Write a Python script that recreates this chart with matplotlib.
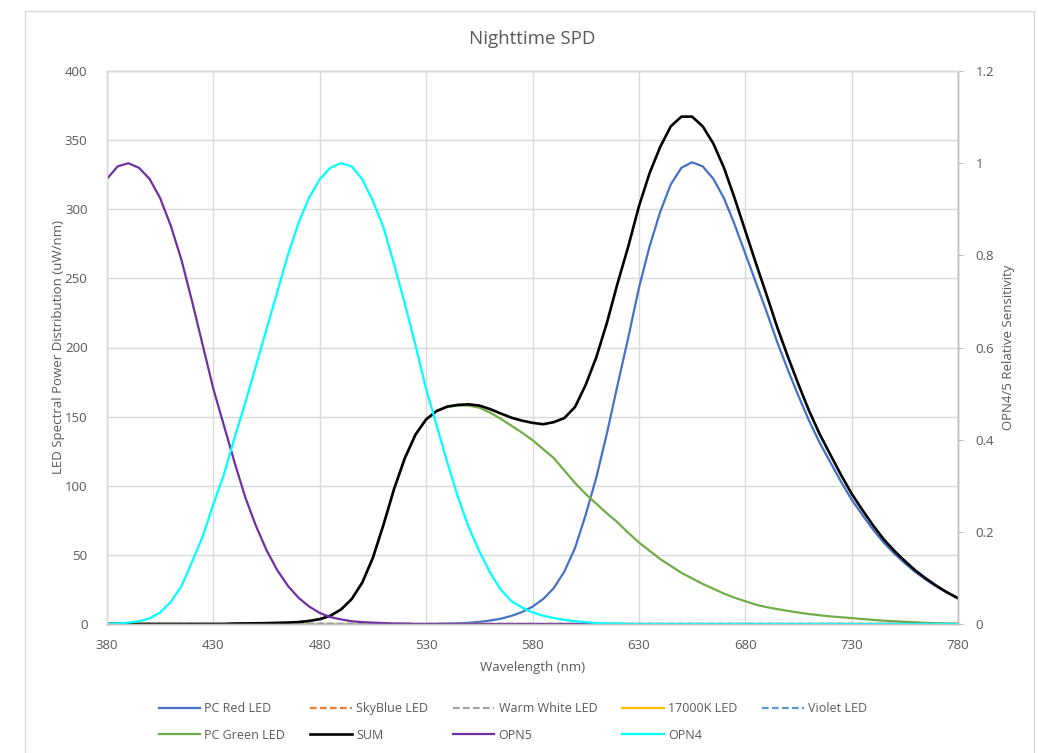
import numpy as np
import matplotlib
matplotlib.use("Agg")
import matplotlib.pyplot as plt
from matplotlib.patches import Rectangle

plt.rcParams['font.family'] = ['Open Sans', 'DejaVu Sans']

# ---------------- data ----------------
wavelength = list(range(380, 781, 5))

pc_red_led = [
    0, 0, 0, 0, 0, 0, 0, 0, 0, 0,                       # 380-425
    0, 0, 0, 0, 0, 0, 0, 0, 0, 0,                       # 430-475
    0, 0, 0, 0, 0, 0, 0, 0, 0, 0,                       # 480-525
    0, 0.1, 0.3, 0.5, 0.9, 1.5, 2.5, 3.8, 5.8, 8.6,     # 530-575
    12.5, 18, 26, 38, 55, 79, 106, 138, 173, 207,       # 580-625
    243, 273, 298, 318, 330, 334, 331, 322, 308, 289,   # 630-675
    268, 247, 226, 204, 184, 165, 147, 131, 117, 103,   # 680-725
    90, 79, 68.5, 59, 51, 44, 37.5, 32, 27, 22.5,       # 730-775
    18.5,                                               # 780
]

pc_green_led = [
    0, 0, 0, 0, 0, 0, 0, 0, 0, 0,
    0, 0, 0.3, 0.4, 0.5, 0.6, 0.8, 1.0, 1.4, 2.2,
    3.5, 6, 10.5, 18, 30, 48, 72, 98, 120, 137,
    148, 154, 157, 158, 158, 156.5, 153, 148.5, 143.5, 138.5,
    133, 126.5, 120, 111, 102, 94, 87, 80, 73.5, 66,
    59, 53, 47, 42, 37, 33, 29, 25.5, 22, 19,
    16.5, 14, 12.2, 10.8, 9.5, 8.3, 7.2, 6.3, 5.5, 4.9,
    4.3, 3.6, 3.0, 2.4, 2.0, 1.6, 1.2, 0.8, 0.5, 0.3,
    0.2,
]

skyblue_led = [0] * 81
warm_white_led = [0] * 81
k17000_led = [0] * 81
violet_led = [0] * 81

opn5 = [
    0.966, 0.993, 1.0, 0.99, 0.966, 0.924, 0.864, 0.79, 0.70, 0.605,
    0.51, 0.43, 0.35, 0.275, 0.213, 0.16, 0.117, 0.083, 0.057, 0.038,
    0.024, 0.015, 0.010, 0.006, 0.004, 0.003, 0.002, 0.001, 0.001, 0,
    0, 0, 0, 0, 0, 0, 0, 0, 0, 0,
    0, 0, 0, 0, 0, 0, 0, 0, 0, 0,
    0, 0, 0, 0, 0, 0, 0, 0, 0, 0,
    0, 0, 0, 0, 0, 0, 0, 0, 0, 0,
    0, 0, 0, 0, 0, 0, 0, 0, 0, 0,
    0,
]

opn4 = [
    0, 0.001, 0.003, 0.006, 0.012, 0.025, 0.048, 0.082, 0.135, 0.19,
    0.26, 0.325, 0.405, 0.48, 0.56, 0.64, 0.72, 0.80, 0.87, 0.925,
    0.965, 0.99, 1.0, 0.993, 0.965, 0.918, 0.86, 0.78, 0.695, 0.605,
    0.51, 0.43, 0.35, 0.275, 0.21, 0.158, 0.112, 0.075, 0.05, 0.036,
    0.025, 0.018, 0.013, 0.009, 0.006, 0.004, 0.002, 0.001, 0.001, 0,
    0, 0, 0, 0, 0, 0, 0, 0, 0, 0,
    0, 0, 0, 0, 0, 0, 0, 0, 0, 0,
    0, 0, 0, 0, 0, 0, 0, 0, 0, 0,
    0,
]

x_ticks = [380, 430, 480, 530, 580, 630, 680, 730, 780]
left_ticks = [0, 50, 100, 150, 200, 250, 300, 350, 400]
right_ticks = [0, 0.2, 0.4, 0.6, 0.8, 1.0, 1.2]
right_tick_labels = ["0", "0.2", "0.4", "0.6", "0.8", "1", "1.2"]

wl = np.array(wavelength)
sum_spd = (np.array(pc_red_led) + np.array(pc_green_led) + np.array(skyblue_led)
           + np.array(warm_white_led) + np.array(k17000_led) + np.array(violet_led))

# ---------------- figure ----------------
W, H = 1038, 753
fig = plt.figure(figsize=(W / 100, H / 100), dpi=100)
fig.patch.set_facecolor('white')

# outer chart border
fig.patches.append(Rectangle((25 / W, -0.02), (1034 - 25) / W, (H - 11) / H + 0.02,
                             transform=fig.transFigure, fill=False,
                             ec='#D9D9D9', lw=1.0, zorder=0))

x0, x1 = 107, 958
y0, y1 = 71, 624
ax = fig.add_axes([x0 / W, 1 - y1 / H, (x1 - x0) / W, (y1 - y0) / H])
ax2 = ax.twinx()

txt = '#595959'
grid_c = '#D9D9D9'
axis_c = '#BFBFBF'

lw = 1.6
h_red, = ax.plot(wl, pc_red_led, color='#4472C4', lw=lw, label='PC Red LED')
h_sky, = ax.plot(wl, skyblue_led, color='#ED7D31', lw=lw, ls=(0, (3, 1.5)), label='SkyBlue LED')
h_ww, = ax.plot(wl, warm_white_led, color='#A5A5A5', lw=lw, ls=(0, (3, 1.5)), label='Warm White LED')
h_17k, = ax.plot(wl, k17000_led, color='#FFC000', lw=lw, label='17000K LED')
h_vio, = ax.plot(wl, violet_led, color='#5B9BD5', lw=lw, ls=(0, (3, 1.5)), label='Violet LED')
h_grn, = ax.plot(wl, pc_green_led, color='#70AD47', lw=lw, label='PC Green LED')
h_sum, = ax.plot(wl, sum_spd, color='black', lw=1.9, label='SUM')
h_o5, = ax2.plot(wl, opn5, color='#7030A0', lw=lw, label='OPN5')
h_o4, = ax2.plot(wl, opn4, color='#00FFFF', lw=lw, label='OPN4')

ax.set_xlim(380, 780)
ax.set_ylim(0, 400)
ax2.set_ylim(0, 1.2)

ax.set_xticks(x_ticks)
ax.set_yticks(left_ticks)
ax2.set_yticks(right_ticks)
ax2.set_yticklabels(right_tick_labels)

ax.grid(True, color=grid_c, lw=1.0)
ax.set_axisbelow(True)

ax.tick_params(axis='x', length=0, pad=11, labelsize=9.5, labelcolor=txt)
ax.tick_params(axis='y', length=0, pad=14, labelsize=9.5, labelcolor=txt)
ax2.tick_params(axis='y', length=3.5, color=axis_c, pad=9, labelsize=9.5, labelcolor=txt)

for a in (ax, ax2):
    for s in ('top', 'left'):
        a.spines[s].set_color(grid_c)
        a.spines[s].set_linewidth(1.0)
    a.spines['bottom'].set_color(axis_c)
    a.spines['right'].set_color(axis_c)
    a.spines['bottom'].set_linewidth(1.0)
    a.spines['right'].set_linewidth(1.0)

ax.set_xlabel('Wavelength (nm)', fontsize=9.5, color=txt)
ax.xaxis.set_label_coords(0.5, -(661 - y1) / (y1 - y0))
ax.set_ylabel('LED Spectral Power Distribution (uW/nm)', fontsize=9.5, color=txt)
ax.yaxis.set_label_coords((65 - x0) / (x1 - x0), 0.5)
ax2.set_ylabel('OPN4/5 Relative Sensitivity', fontsize=9.5, color=txt)
ax2.yaxis.set_label_coords((1002 - x0) / (x1 - x0), 0.5)

fig.text(532 / W, 1 - 39 / H, 'Nighttime SPD', ha='center', va='center',
         fontsize=13.5, color=txt)

handles = [h_red, h_grn, h_sky, h_sum, h_ww, h_o5, h_17k, h_o4, h_vio]
fig.legend(handles=handles, labels=[h.get_label() for h in handles],
           loc='center', bbox_to_anchor=(513 / W, 1 - 722 / H), ncol=5,
           frameon=False, fontsize=9, handlelength=3.3, handletextpad=0.35,
           columnspacing=2.0, labelspacing=1.05, labelcolor=txt)

fig.savefig('out.png', dpi=100, facecolor='white')
